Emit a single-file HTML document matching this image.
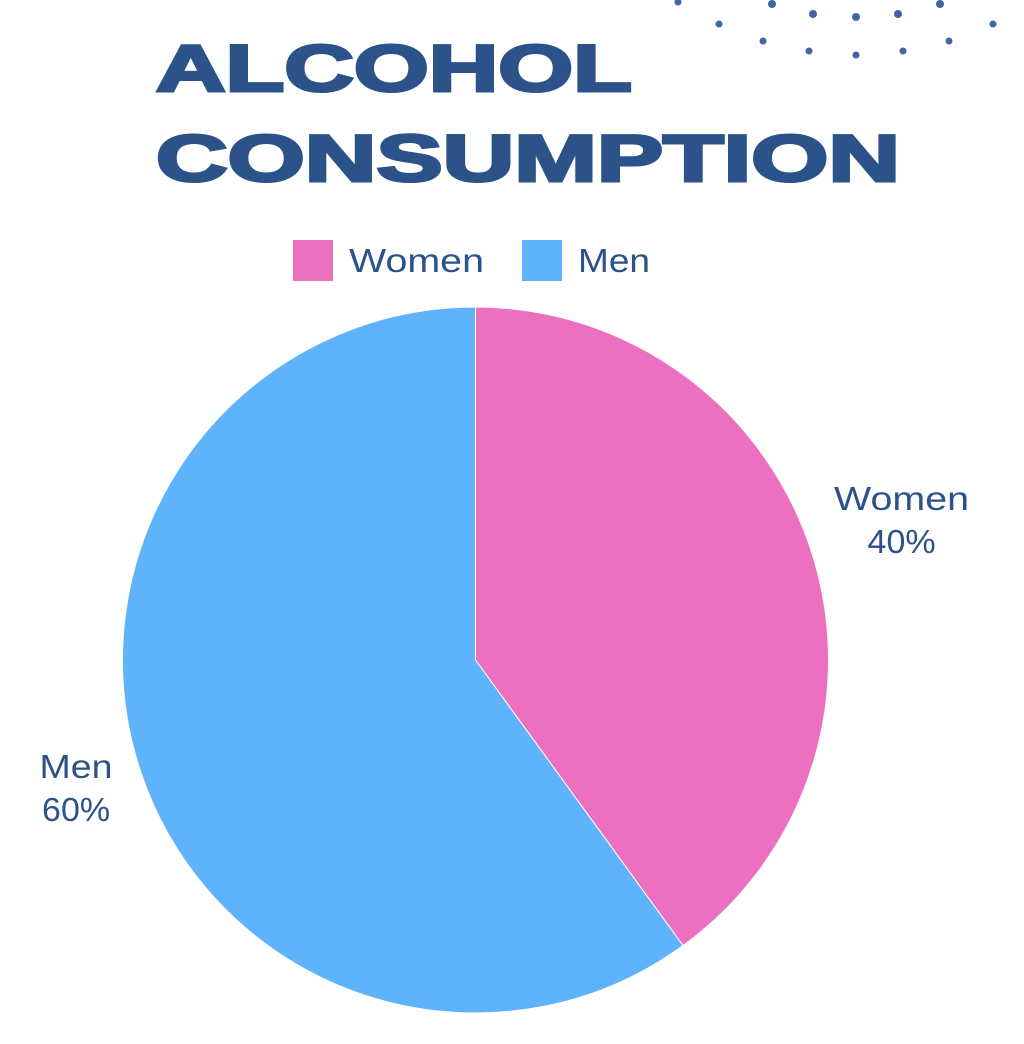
<!DOCTYPE html>
<html><head><meta charset="utf-8"><style>
html,body{margin:0;padding:0;background:#fff;}
svg{display:block;font-family:"Liberation Sans",sans-serif;}
</style></head><body>
<svg id="chart" width="1024" height="1044" viewBox="0 0 1024 1044">
<g fill="#3F66A3">
<circle cx="678" cy="2" r="3.5"/><circle cx="719" cy="24" r="3.5"/><circle cx="772" cy="4" r="4"/>
<circle cx="813" cy="14" r="4"/><circle cx="856" cy="17" r="4"/><circle cx="898" cy="14" r="4"/>
<circle cx="940" cy="4" r="4"/><circle cx="993" cy="24" r="3.5"/><circle cx="763" cy="41" r="3.5"/>
<circle cx="809" cy="51" r="3.5"/><circle cx="856" cy="55" r="3.5"/><circle cx="903" cy="51" r="3.5"/>
<circle cx="949" cy="41" r="3.5"/>
</g>
<g fill="#2B5289" font-weight="900" font-size="66">
<text x="156" y="91" textLength="476" lengthAdjust="spacingAndGlyphs" stroke="#2B5289" stroke-width="3">ALCOHOL</text>
<text x="156" y="181" textLength="744" lengthAdjust="spacingAndGlyphs" stroke="#2B5289" stroke-width="3">CONSUMPTION</text>
</g>
<g id="legend"></g>
<g id="slices"></g>
<g id="labels"></g>
</svg>
<script>
const categories = ["Women", "Men"];
const values = [40, 60];
const colors = ["#ED70C0", "#5EB3FA"];
const NS = "http://www.w3.org/2000/svg";
const cx = 475.5, cy = 660, r = 353;
const total = values.reduce((a,b)=>a+b,0);
const slices = document.getElementById('slices');
const labels = document.getElementById('labels');
const legend = document.getElementById('legend');
const labelDist = [448, 420];
const labelDy = [-150, 118];
const nameW = [135, 73];
const pctW = 68;
let a0 = -Math.PI/2;
values.forEach((v,i)=>{
  const a1 = a0 + v/total*2*Math.PI;
  const x0 = cx + r*Math.cos(a0), y0 = cy + r*Math.sin(a0);
  const x1 = cx + r*Math.cos(a1), y1 = cy + r*Math.sin(a1);
  const large = (a1-a0) > Math.PI ? 1 : 0;
  const p = document.createElementNS(NS,'path');
  p.setAttribute('d',`M${cx},${cy} L${x0},${y0} A${r},${r} 0 ${large} 1 ${x1},${y1} Z`);
  p.setAttribute('fill',colors[i]);
  p.setAttribute('stroke','#fff');
  p.setAttribute('stroke-width','1');
  
  
  slices.appendChild(p);
  const am = (a0+a1)/2;
  const lx = cx + labelDist[i]*Math.cos(am), ly = cy + labelDy[i];
  const t = document.createElementNS(NS,'text');
  t.setAttribute('text-anchor','middle');
  t.setAttribute('font-size','33');
  t.setAttribute('fill','#2B5289');
  
  
  const s1 = document.createElementNS(NS,'tspan');
  s1.setAttribute('x',lx); s1.setAttribute('y',ly);
  s1.setAttribute('textLength',nameW[i]); s1.setAttribute('lengthAdjust','spacingAndGlyphs');
  s1.textContent = categories[i];
  const s2 = document.createElementNS(NS,'tspan');
  s2.setAttribute('x',lx); s2.setAttribute('y',ly+43);
  s2.setAttribute('textLength',pctW); s2.setAttribute('lengthAdjust','spacingAndGlyphs');
  s2.textContent = v + '%';
  t.appendChild(s1); t.appendChild(s2);
  labels.appendChild(t);
  a0 = a1;
});
const legX = [293, 522];
const legW = [135, 72];
categories.forEach((c,i)=>{
  const g = document.createElementNS(NS,'g');
  
  
  const rc = document.createElementNS(NS,'rect');
  rc.setAttribute('x',legX[i]); rc.setAttribute('y',240);
  rc.setAttribute('width',40); rc.setAttribute('height',41);
  rc.setAttribute('fill',colors[i]);
  const t = document.createElementNS(NS,'text');
  t.setAttribute('x',legX[i]+56); t.setAttribute('y',272);
  t.setAttribute('font-size','33'); t.setAttribute('fill','#2B5289');
  t.setAttribute('textLength',legW[i]); t.setAttribute('lengthAdjust','spacingAndGlyphs');
  t.textContent = c;
  g.appendChild(rc); g.appendChild(t);
  legend.appendChild(g);
});
</script>
</body></html>
